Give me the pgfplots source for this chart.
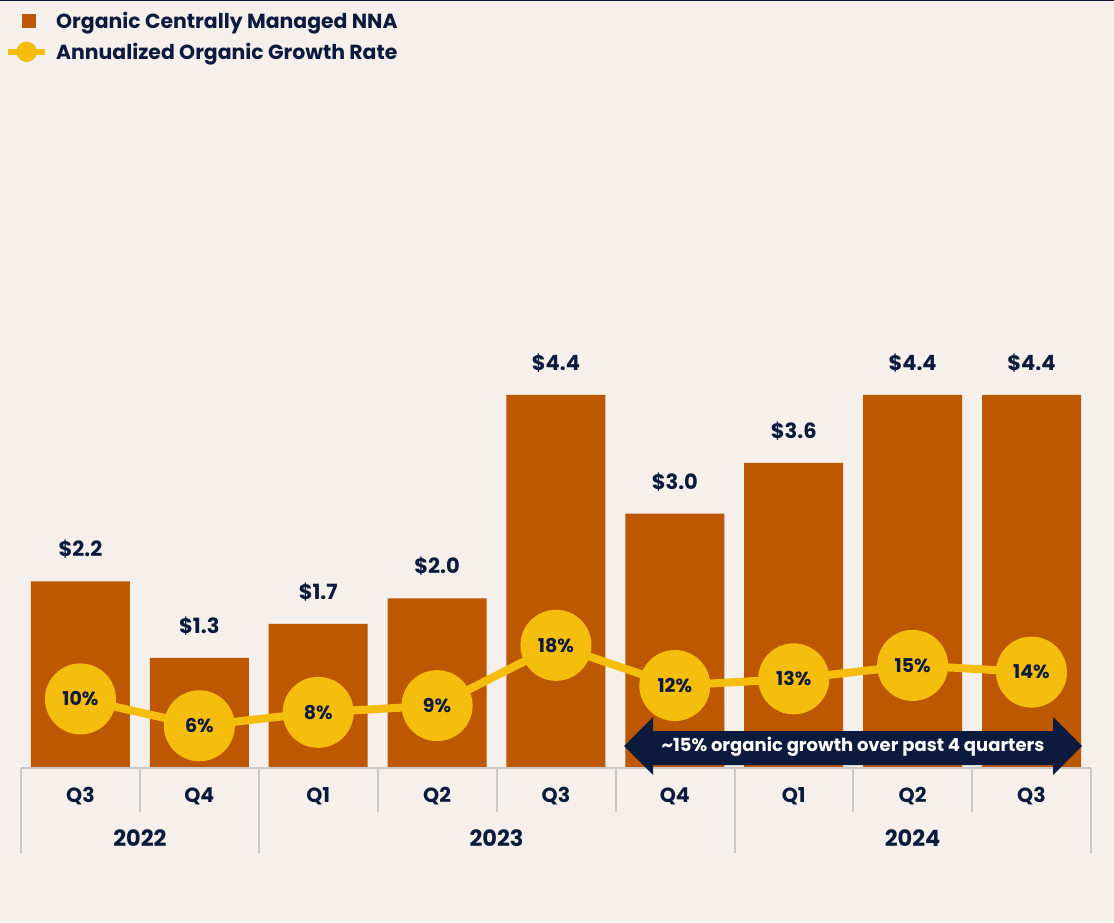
\documentclass[border=0pt]{standalone}
\usepackage{pgfplots}
\usepackage{pgfplotstable}
\pgfplotsset{compat=1.18}
\usepackage{fontspec}
\setmainfont{Poppins}
\definecolor{bg}{HTML}{F5F0EC}
\definecolor{barc}{HTML}{BD5700}
\definecolor{yel}{HTML}{F6BE0C}
\definecolor{navy}{HTML}{0C1A3E}
\definecolor{divg}{HTML}{C8C8C8}

\pgfplotstableread{
x nna lab
0 2.2 2.2
1 1.3 1.3
2 1.7 1.7
3 2.0 2.0
4 4.4 4.4
5 3.0 3.0
6 3.6 3.6
7 4.4 4.4
8 4.4 4.4
}\nnadata

\pgfplotstableread{
x g lab
0 10 10
1 6 6
2 8 8
3 9 9
4 18 18
5 12 12
6 13 13
7 15 15
8 14 14
}\growthdata

\begin{document}
\begin{tikzpicture}
\fill[bg] (0pt,0pt) rectangle (1114pt,922pt);
\useasboundingbox (0pt,0pt) rectangle (1114pt,922pt);
\fill[navy] (0pt,920.5pt) rectangle (1114pt,922pt);

\begin{axis}[
  at={(21pt,154pt)}, anchor=south west,
  scale only axis, width=1070pt, height=468pt,
  xmin=-0.5, xmax=8.5, ymin=0, ymax=5.52,
  clip=false,
  axis line style={draw=none},
  major tick length=0pt,
  ytick=\empty,
  xtick={0,...,8},
  xticklabels={Q3,Q4,Q1,Q2,Q3,Q4,Q1,Q2,Q3},
  xticklabel style={anchor=center, yshift=-28pt, font=\fontsize{20.5}{24}\selectfont\bfseries, text=navy},
  extra x ticks={0.5,3.5,7},
  extra x tick labels={2022,2023,2024},
  extra x tick style={xticklabel style={yshift=-42pt, font=\fontsize{22.5}{26}\selectfont\bfseries}},
]
\addplot[ybar, bar width=99pt, bar shift=0pt, fill=barc, draw=none,
  point meta=explicit symbolic,
  nodes near coords={\$\pgfplotspointmeta},
  every node near coord/.append style={anchor=center, yshift=32pt,
     font=\fontsize{21}{24}\selectfont\bfseries, text=navy}]
  table[x=x, y=nna, meta=lab] {\nnadata};
\end{axis}

\begin{axis}[
  at={(21pt,154pt)}, anchor=south west,
  scale only axis, width=1070pt, height=468pt,
  xmin=-0.5, xmax=8.5, ymin=-0.3, ymax=69.5,
  clip=false, hide axis,
  legend style={at={(axis description cs:-0.01495,1.62)}, anchor=north west,
    draw=none, fill=none, inner sep=0pt, row sep=9pt, column sep=6pt,
    font=\fontsize{20.4}{23}\selectfont\bfseries, text=navy},
  legend cell align=left,
]
\addlegendimage{legend image code/.code={\fill[barc] (14pt,-6.5pt) rectangle (27pt,6.5pt);}}
\addlegendentry{Organic Centrally Managed NNA}
\addlegendimage{legend image code/.code={\draw[yel, line width=6pt] (0pt,0pt) -- (37pt,0pt); \fill[yel] (18.5pt,0pt) circle (10pt);}}
\addlegendentry{Annualized Organic Growth Rate}
\addplot[yel, line width=8pt, mark=*, mark size=31.5pt,
  mark options={fill=yel, draw=none},
  point meta=explicit symbolic,
  nodes near coords={\pgfplotspointmeta\%},
  every node near coord/.append style={anchor=center,
     font=\fontsize{19}{22}\selectfont\bfseries, text=navy}]
  table[x=x, y=g, meta=lab] {\growthdata};
\end{axis}

% baseline and category dividers
\draw[divg, line width=2pt] (21pt,154pt) -- (1091pt,154pt);
\foreach \xx in {140,378,497,616,853,972}
  \draw[divg, line width=2pt] (\xx pt,154pt) -- (\xx pt,110pt);
\foreach \xx in {21,259,735,1091}
  \draw[divg, line width=2pt] (\xx pt,154pt) -- (\xx pt,69pt);

% annotation arrow
\fill[navy] (624pt,176pt) -- (653pt,205pt) -- (653pt,191pt) -- (1053pt,191pt)
  -- (1053pt,205pt) -- (1082pt,176pt) -- (1053pt,147pt) -- (1053pt,157pt)
  -- (653pt,157pt) -- (653pt,147pt) -- cycle;
\node[text=white, font=\fontsize{18}{21}\selectfont\bfseries] at (853pt,175pt)
  {\textasciitilde15\% organic growth over past 4 quarters};
\end{tikzpicture}
\end{document}
